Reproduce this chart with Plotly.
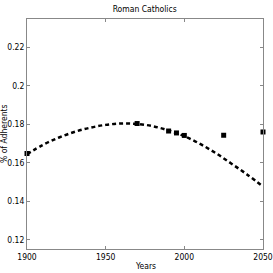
import plotly.graph_objects as go

title = "Roman Catholics"
obs_years = [1900, 1970, 1990, 1995, 2000, 2025, 2050]
obs_vals = [0.1648, 0.1804, 0.1765, 0.1755, 0.1742, 0.1743, 0.1760]
fit_years = [1900, 1910, 1920, 1930, 1940, 1950, 1960, 1970, 1980, 1990, 2000, 2010, 2020, 2030, 2040, 2050]
fit_vals = [0.1645, 0.1692, 0.1730, 0.1760, 0.1782, 0.1797, 0.1804, 0.1802, 0.1790, 0.1768, 0.1738, 0.1698, 0.1650, 0.1595, 0.1538, 0.1476]
x_ticks = [1900, 1950, 2000, 2050]
y_ticks = [0.12, 0.14, 0.16, 0.18, 0.20, 0.22]
y_tick_text = ["0.12", "0.14", "0.16", "0.18", "0.2", "0.22"]

FONT = "DejaVu Sans Condensed, Liberation Sans Narrow, Liberation Sans"

fig = go.Figure()
fig.add_trace(go.Scatter(x=fit_years, y=fit_vals, mode="lines", line=dict(color="black", width=2.5, dash="4px,3px"),
                         line_shape="spline", hoverinfo="skip"))
fig.add_trace(go.Scatter(x=obs_years, y=obs_vals, mode="markers",
                         marker=dict(symbol="square", size=5, color="black"), cliponaxis=False))

axis_common = dict(showgrid=False, zeroline=False, showline=True, linecolor="#888888", linewidth=1,
                   mirror="allticks", ticks="inside", ticklen=3, tickcolor="#888888", automargin=False,
                   ticklabeloverflow="allow", ticklabelstandoff=0,
                   tickfont=dict(family=FONT, size=8.5, color="black"))
fig.update_xaxes(range=[1900, 2050], tickvals=x_ticks, **axis_common)
fig.update_yaxes(range=[0.1151, 0.2348], tickvals=y_ticks, ticktext=y_tick_text, **axis_common)
fig.add_annotation(text="% of Adherents", xref="paper", yref="paper", x=0, y=0.5, xanchor="right", yanchor="middle",
                   xshift=-16, textangle=-90, showarrow=False, font=dict(family=FONT, size=8.5, color="black"))
fig.add_annotation(text="Years", xref="paper", yref="paper", x=0.5, y=0, xanchor="center", yanchor="middle",
                   yshift=-17, showarrow=False, font=dict(family=FONT, size=8.5, color="black"))
fig.update_layout(width=273, height=273, margin=dict(l=27, r=10, t=19, b=24),
                  plot_bgcolor="white", paper_bgcolor="white", showlegend=False,
                  title=dict(text=title, x=0.53, xanchor="center", y=0.967, yanchor="middle",
                             font=dict(family=FONT, size=8.5, color="black")))
fig.write_html("out.html", config={"displayModeBar": False},
               post_script="document.body.style.margin='0';document.body.style.overflow='hidden';")
